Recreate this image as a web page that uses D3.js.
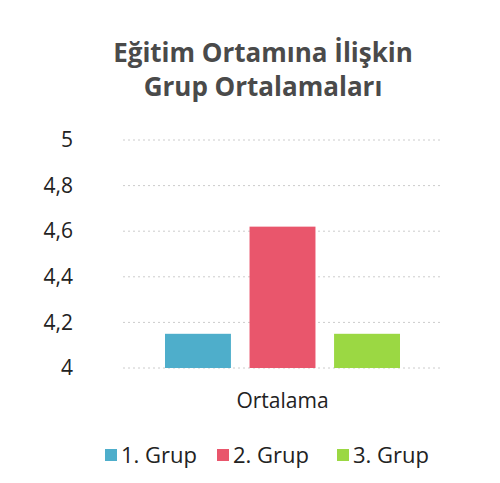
<!DOCTYPE html>
<html>
<head>
<meta charset="utf-8">
<script src="https://cdn.jsdelivr.net/npm/d3@7"></script>
<style>
  body { margin: 0; background: #fff; }
  text { font-family: "Open Sans", "Noto Sans", sans-serif; }
</style>
</head>
<body>
<svg id="chart" width="500" height="483"></svg>
<script>
var titleLines = ["Eğitim Ortamına İlişkin", "Grup Ortalamaları"];
var categories = ["Ortalama"];
var groups = ["1. Grup", "2. Grup", "3. Grup"];
var values = [4.15, 4.62, 4.15];
var yTicks = [4, 4.2, 4.4, 4.6, 4.8, 5];
var colors = ["#4eaecb", "#e9566c", "#9bd843"];

var svg = d3.select("#chart"),
    width = +svg.attr("width"),
    height = +svg.attr("height");

var margin = {left: 123, right: 58, top: 140, bottom: 115};

var y = d3.scaleLinear()
    .domain([4, 5])
    .range([height - margin.bottom, margin.top]);

var x0 = d3.scaleBand()
    .domain(categories)
    .range([margin.left, width - margin.right]);

var x1 = d3.scaleBand()
    .domain(groups)
    .range([x0("Ortalama") + 42, x0("Ortalama") + x0.bandwidth() - 42])
    .paddingInner(0.22);

// title
svg.append("g").selectAll("text")
    .data(titleLines)
    .enter().append("text")
    .attr("x", 263)
    .attr("y", function(d, i) { return 62 + i * 34; })
    .attr("text-anchor", "middle")
    .style("font-size", "26px")
    .style("font-weight", "bold")
    .style("fill", "#4a4a4a")
    .text(function(d) { return d; });

// gridlines
svg.append("g")
    .selectAll("line")
    .data(yTicks)
    .enter().append("line")
    .attr("x1", margin.left)
    .attr("x2", width - margin.right)
    .attr("y1", function(d) { return y(d); })
    .attr("y2", function(d) { return y(d); })
    .style("stroke", "#ccc")
    .style("stroke-width", 1)
    .style("stroke-dasharray", "2,3");

// y axis labels
var yAxis = svg.append("g")
    .attr("transform", "translate(" + 73 + ",0)")
    .call(d3.axisLeft(y).tickValues(yTicks).tickSize(0).tickPadding(0)
        .tickFormat(function(d) { return d3.format(".1~f")(d).replace(".", ","); }));
yAxis.select(".domain").remove();
yAxis.selectAll("text")
    .style("font-size", "21px")
    .style("font-family", "'Open Sans', sans-serif")
    .style("fill", "#222");

// bars
svg.append("g")
    .selectAll("rect")
    .data(values)
    .enter().append("rect")
    .attr("x", function(d, i) { return x1(groups[i]); })
    .attr("width", x1.bandwidth())
    .attr("y", function(d) { return y(d); })
    .attr("height", function(d) { return y(4) - y(d); })
    .style("fill", function(d, i) { return colors[i]; });

// category label
svg.append("text")
    .attr("x", x0("Ortalama") + x0.bandwidth() / 2)
    .attr("y", 408)
    .attr("text-anchor", "middle")
    .style("font-size", "21px")
    .style("fill", "#222")
    .text(categories[0]);

// legend
var legendX = [105, 217, 337];
var legend = svg.append("g").selectAll("g")
    .data(groups)
    .enter().append("g")
    .attr("transform", function(d, i) { return "translate(" + legendX[i] + ",455)"; });

legend.append("rect")
    .attr("x", 0)
    .attr("y", -6)
    .attr("width", 12)
    .attr("height", 12)
    .style("fill", function(d, i) { return colors[i]; });

legend.append("text")
    .attr("x", 16)
    .attr("y", 0)
    .attr("dy", "0.35em")
    .style("font-size", "22px")
    .style("fill", "#222")
    .text(function(d) { return d; });
</script>
</body>
</html>
